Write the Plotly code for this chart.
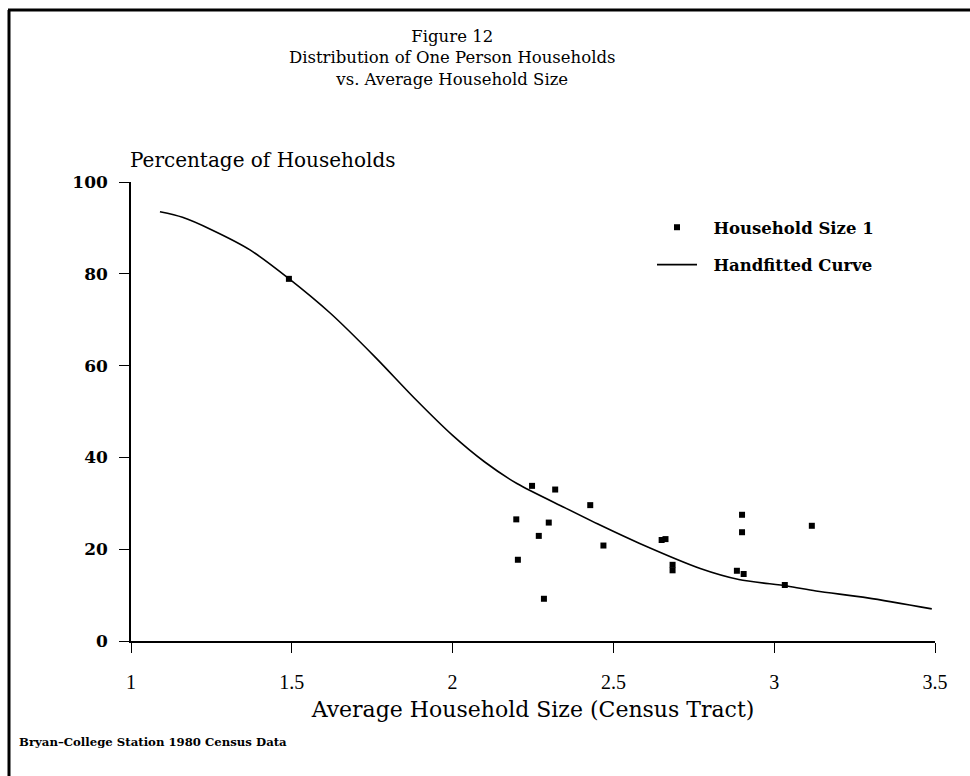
import plotly.graph_objects as go

# ---- data ----
tract_size = [1.491, 2.198, 2.203, 2.247, 2.268, 2.284, 2.299, 2.319, 2.428, 2.469,
              2.650, 2.662, 2.684, 2.684, 2.884, 2.900, 2.900, 2.905, 3.033, 3.117]
tract_pct = [78.9, 26.5, 17.7, 33.8, 22.9, 9.2, 25.8, 33.0, 29.6, 20.8,
             22.0, 22.2, 16.6, 15.4, 15.3, 27.5, 23.7, 14.6, 12.2, 25.1]

curve_x = [1.09, 1.16, 1.25, 1.37, 1.49, 1.62, 1.76, 1.88, 2.00, 2.10, 2.20,
           2.35, 2.46, 2.58, 2.77, 2.89, 3.04, 3.13, 3.29, 3.49]
curve_y = [93.5, 92.3, 89.6, 85.2, 79.0, 71.4, 61.8, 53.0, 44.8, 39.0, 34.3,
           29.0, 25.2, 21.3, 15.8, 13.4, 12.0, 10.9, 9.4, 7.0]

x_ticks = [1, 1.5, 2, 2.5, 3, 3.5]
x_tick_labels = ["1", "1.5", "2", "2.5", "3", "3.5"]
y_ticks = [0, 20, 40, 60, 80, 100]

title_lines = ["Figure 12", "Distribution of One Person Households",
               "vs. Average Household Size"]

# ---- layout geometry ----
W, H = 970, 776
L, R, T, B = 131, 35, 182, 135
PW, PH = W - L - R, H - T - B


def px(xp):
    return (xp - L) / PW


def py(yp):
    return (H - B - yp) / PH


SERIF = "DejaVu Serif"
COND = "Liberation Serif"

fig = go.Figure()
fig.add_trace(go.Scatter(
    x=tract_size, y=tract_pct, mode="markers",
    name="\u00a0\u00a0Household Size 1", legendgroup="a",
    marker=dict(symbol="square", size=6, color="black"),
))
fig.add_trace(go.Scatter(
    x=curve_x, y=curve_y, mode="lines",
    name="\u00a0\u00a0Handfitted Curve", legendgroup="b",
    line=dict(color="black", width=1.6, shape="spline", smoothing=0.8),
))

fig.update_layout(
    width=W, height=H,
    margin=dict(l=L, r=R, t=T, b=B),
    paper_bgcolor="white", plot_bgcolor="white",
    showlegend=True,
    legend=dict(
        x=px(652), y=py(210), xanchor="left", yanchor="top",
        bgcolor="rgba(0,0,0,0)",
        font=dict(family=SERIF, size=16.5, color="black", weight="bold"),
        tracegroupgap=13, itemwidth=40,
    ),
    xaxis=dict(
        range=[1, 3.5], tickmode="array", tickvals=x_ticks, ticktext=x_tick_labels,
        showline=True, linecolor="black", linewidth=1.5,
        ticks="outside", ticklen=10, tickcolor="black", tickwidth=1.2,
        showgrid=False, zeroline=False, ticklabelstandoff=12,
        tickfont=dict(family=COND, size=20, color="black"),
        title=dict(text="Average Household Size (Census Tract)",
                   font=dict(family=SERIF, size=22, color="black"), standoff=10),
    ),
    yaxis=dict(
        range=[0, 100], tickmode="array", tickvals=y_ticks,
        showline=True, linecolor="black", linewidth=1.5,
        ticks="outside", ticklen=10, tickcolor="black", tickwidth=1.2,
        showgrid=False, zeroline=False, ticklabelstandoff=8,
        tickfont=dict(family=SERIF, size=17, color="black", weight="bold"),
    ),
)

fig.add_annotation(
    text="<br>".join(title_lines), xref="paper", yref="paper",
    x=px(452), y=py(57.5),
    xanchor="center", yanchor="middle", showarrow=False,
    font=dict(family=SERIF, size=16.5, color="black"),
)
fig.add_annotation(
    text="Percentage of Households",
    xref="paper", yref="paper", x=px(128), y=py(160),
    xanchor="left", yanchor="middle", showarrow=False,
    font=dict(family=SERIF, size=20, color="black"),
)
fig.add_annotation(
    text="Bryan\u2013College Station 1980 Census Data",
    xref="paper", yref="paper", x=px(17), y=py(742),
    xanchor="left", yanchor="middle", showarrow=False,
    font=dict(family=SERIF, size=11.7, color="black", weight="bold"),
)

# page frame (top and left edges)
fig.add_shape(type="line", xref="paper", yref="paper",
              x0=px(8), x1=px(970), y0=py(10), y1=py(10),
              line=dict(color="black", width=3))
fig.add_shape(type="line", xref="paper", yref="paper",
              x0=px(9), x1=px(9), y0=py(10), y1=py(776),
              line=dict(color="black", width=3))

fig.write_html("out.html")
